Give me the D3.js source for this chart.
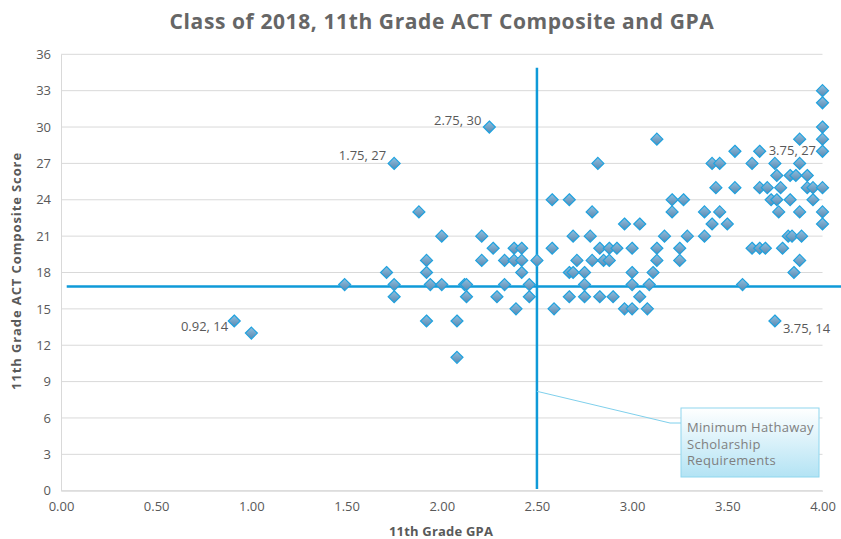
<!DOCTYPE html>
<html>
<head>
<meta charset="utf-8">
<script src="https://cdn.jsdelivr.net/npm/d3@7"></script>
<style>
  html, body { margin: 0; padding: 0; background: #ffffff; }
  svg { display: block; }
</style>
</head>
<body>
<svg id="chart" width="841" height="539"></svg>
<script>
// ---------- DATA ----------
const gpa = [
  0.91, 1.00, 1.49, 1.71, 1.75, 1.75, 1.75, 1.88, 1.92, 1.92, 1.94, 1.92, 2.00, 2.00, 2.08, 2.08,
  2.12, 2.13, 2.13, 2.21, 2.21, 2.27, 2.25, 2.29, 2.33, 2.33, 2.38, 2.42, 2.38, 2.42, 2.42, 2.39,
  2.46, 2.46, 2.50,
  2.58, 2.67, 2.79, 2.82, 2.69, 2.78, 2.58, 2.71, 2.79, 2.83, 2.88, 2.92, 2.85, 2.88, 2.67, 2.69,
  2.75, 2.75, 2.67, 2.75, 2.83, 2.90, 2.59, 2.96, 3.04, 3.00, 3.00, 3.00, 3.04, 2.96, 3.00, 3.08,
  3.09, 3.11, 3.13, 3.13, 3.17, 3.21, 3.27, 3.21, 3.25, 3.25, 3.29, 3.13,
  3.88, 4.00, 4.00, 4.00, 4.00, 4.00, 3.54, 3.67, 3.42, 3.46, 3.63, 3.75, 3.88, 3.76, 3.83, 3.86,
  3.92, 3.44, 3.54, 3.67, 3.71, 3.78, 3.92, 3.95, 4.00, 3.73, 3.76, 3.83, 3.95, 3.38, 3.46, 3.77,
  3.88, 4.00, 3.42, 3.50, 4.00, 3.38, 3.82, 3.84, 3.89, 3.63, 3.67, 3.70, 3.79, 3.88, 3.85, 3.58,
  3.75
];
const act = [
  14, 13, 17, 18, 27, 17, 16, 23, 19, 18, 17, 14, 21, 17, 14, 11,
  17, 17, 16, 21, 19, 20, 30, 16, 19, 17, 20, 20, 19, 19, 18, 15,
  17, 16, 19,
  24, 24, 23, 27, 21, 21, 20, 19, 19, 20, 20, 20, 19, 19, 18, 18,
  18, 17, 16, 16, 16, 16, 15, 22, 22, 20, 18, 17, 16, 15, 15, 15,
  17, 18, 19, 20, 21, 24, 24, 23, 20, 19, 21, 29,
  29, 33, 32, 30, 29, 28, 28, 28, 27, 27, 27, 27, 27, 26, 26, 26,
  26, 25, 25, 25, 25, 25, 25, 25, 25, 24, 24, 24, 24, 23, 23, 23,
  23, 23, 22, 22, 22, 21, 21, 21, 21, 20, 20, 20, 20, 19, 18, 17,
  14
];

// Hathaway minimum requirements
const minGPA = 2.5;
const minACT = 16.85;
const vLineRange = [0.15, 34.9];     // ACT extent of vertical reference line
const hLineRange = [0.03, 4.1];      // GPA extent of horizontal reference line

const xTicks = [0, 0.5, 1, 1.5, 2, 2.5, 3, 3.5, 4];
const yTicks = [0, 3, 6, 9, 12, 15, 18, 21, 24, 27, 30, 33, 36];

const labelTexts = ["2.75, 30", "1.75, 27", "0.92, 14", "3.75, 27", "3.75, 14"];
const labelGPA   = [2.25, 1.75, 0.91, 3.67, 3.75];
const labelACT   = [30, 27, 14, 28, 14];

const title = "Class of 2018, 11th Grade ACT Composite and GPA";
const xTitle = "11th Grade GPA";
const yTitle = "11th Grade ACT Composite Score";
const calloutLines = ["Minimum Hathaway", "Scholarship", "Requirements"];

// ---------- LAYOUT / STYLE ----------
const labelStyle = [
  {anchor: "end", dx: -8, dy: -2},
  {anchor: "end", dx: -8, dy: -3},
  {anchor: "end", dx: -6, dy: 10},
  {anchor: "start", dx: 9, dy: 4},
  {anchor: "start", dx: 8, dy: 12}
];
const svg = d3.select("#chart");
const x = d3.scaleLinear().domain([0, 4]).range([61, 822.5]);
const y = d3.scaleLinear().domain([0, 36]).range([490.7, 54.3]);
const FONT = "'Open Sans', 'DejaVu Sans', sans-serif";
const textGray = "#595959";
const lineBlue = "#0f9ad8";

const defs = svg.append("defs");
const mg = defs.append("linearGradient").attr("id", "markerGrad")
  .attr("x1", 0).attr("y1", 0).attr("x2", 0).attr("y2", 1);
mg.append("stop").attr("offset", "0%").attr("stop-color", "#8fc0e0");
mg.append("stop").attr("offset", "100%").attr("stop-color", "#5a88b0");
const bg = defs.append("linearGradient").attr("id", "boxGrad")
  .attr("x1", 0).attr("y1", 0).attr("x2", 0).attr("y2", 1);
bg.append("stop").attr("offset", "0%").attr("stop-color", "#ffffff");
bg.append("stop").attr("offset", "100%").attr("stop-color", "#b3e3f4");

// Title
svg.append("text")
  .attr("x", 442).attr("y", 29)
  .attr("text-anchor", "middle")
  .attr("font-family", FONT).attr("font-weight", 700).attr("font-size", 21)
  .attr("letter-spacing", 0.6)
  .attr("fill", "#666666")
  .text(title);

// Gridlines
svg.append("g").selectAll("line").data(yTicks).join("line")
  .attr("x1", x(0)).attr("x2", x(4))
  .attr("y1", d => y(d)).attr("y2", d => y(d))
  .attr("stroke", "#d9d9d9").attr("stroke-width", 1);

// Axes
const xAxis = svg.append("g").attr("transform", `translate(0,${y(0)})`)
  .call(d3.axisBottom(x).tickValues(xTicks).tickFormat(d3.format(".2f")).tickSize(0).tickPadding(11));
xAxis.select(".domain").attr("stroke", "#d9d9d9");
xAxis.selectAll("text").attr("font-family", FONT).attr("font-size", 13).attr("fill", textGray);

const yAxis = svg.append("g").attr("transform", `translate(${x(0)},0)`)
  .call(d3.axisLeft(y).tickValues(yTicks).tickFormat(d3.format("d")).tickSize(0).tickPadding(10));
yAxis.select(".domain").attr("stroke", "#d9d9d9");
yAxis.selectAll("text").attr("font-family", FONT).attr("font-size", 13).attr("fill", textGray);

// Axis titles
svg.append("text")
  .attr("x", 441).attr("y", 536)
  .attr("text-anchor", "middle")
  .attr("font-family", FONT).attr("font-weight", 700).attr("font-size", 13)
  .attr("letter-spacing", 0.2)
  .attr("fill", textGray)
  .text(xTitle);
svg.append("text")
  .attr("transform", `translate(21,${271}) rotate(-90)`)
  .attr("text-anchor", "middle")
  .attr("font-family", FONT).attr("font-weight", 700).attr("font-size", 13)
  .attr("letter-spacing", 0.9)
  .attr("fill", textGray)
  .text(yTitle);

// Reference lines
svg.append("line")
  .attr("x1", x(hLineRange[0])).attr("x2", x(hLineRange[1]))
  .attr("y1", y(minACT)).attr("y2", y(minACT))
  .attr("stroke", lineBlue).attr("stroke-width", 2.5);
svg.append("line")
  .attr("x1", x(minGPA)).attr("x2", x(minGPA))
  .attr("y1", y(vLineRange[0])).attr("y2", y(vLineRange[1]))
  .attr("stroke", lineBlue).attr("stroke-width", 2.5);

// Points
const pts = gpa.map((g, i) => ({g, a: act[i]}));
const diamond = "M0,-6L6,0L0,6L-6,0Z";
svg.append("g").selectAll("path").data(pts).join("path")
  .attr("transform", d => `translate(${x(d.g)},${y(d.a)})`)
  .attr("d", diamond)
  .attr("fill", "url(#markerGrad)")
  .attr("stroke", "#1fa2df").attr("stroke-width", 1.2);

// Data labels
svg.append("g").selectAll("text").data(labelTexts).join("text")
  .attr("x", (d, i) => x(labelGPA[i]) + labelStyle[i].dx)
  .attr("y", (d, i) => y(labelACT[i]) + labelStyle[i].dy)
  .attr("text-anchor", (d, i) => labelStyle[i].anchor)
  .attr("font-family", FONT).attr("font-size", 13)
  .attr("fill", textGray)
  .text(d => d);

// Callout
const box = {x: 681, y: 408, w: 138, h: 69};
svg.append("polyline")
  .attr("points", `${x(minGPA)},${y(8.2)} ${box.x - 11},${box.y + 15} ${box.x},${box.y + 15}`)
  .attr("fill", "none").attr("stroke", "#7fd0ec").attr("stroke-width", 1);
svg.append("rect")
  .attr("x", box.x).attr("y", box.y).attr("width", box.w).attr("height", box.h)
  .attr("fill", "url(#boxGrad)").attr("stroke", "#8fd6ee").attr("stroke-width", 1);
svg.append("g").selectAll("text").data(calloutLines).join("text")
  .attr("x", box.x + 6)
  .attr("y", (d, i) => box.y + 24 + i * 16.5)
  .attr("font-family", FONT).attr("font-size", 13)
  .attr("letter-spacing", 0.3)
  .attr("fill", "#7f7f7f")
  .text(d => d);
</script>
</body>
</html>
